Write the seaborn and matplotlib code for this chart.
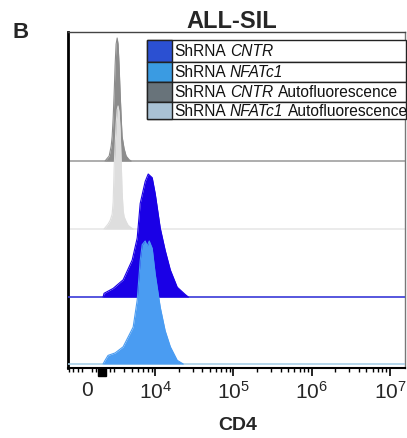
import matplotlib
matplotlib.use("Agg")
import matplotlib.pyplot as plt
import matplotlib.transforms as mtransforms
from matplotlib.patches import Rectangle
from matplotlib.ticker import FixedLocator, NullFormatter
import seaborn as sns
import pandas as pd

# ---- data (CD4 intensity, % of mode) ----
cntr_auto_x = [1980, 2200, 2430, 2650, 2760, 2870, 2980, 3070, 3160, 3260, 3350, 3450, 3560, 3670, 3770, 4000, 4250, 4640, 4920]
cntr_auto_y = [0, 2, 4, 12, 20, 35, 55, 78, 95, 100, 95, 78, 55, 35, 20, 10, 4, 1, 0]

nfat_auto_x = [1870, 2090, 2310, 2540, 2760, 2870, 2980, 3070, 3160, 3260, 3350, 3450, 3560, 3670, 3770, 3890, 4000, 4250, 4500, 4920, 5220]
nfat_auto_y = [0, 2, 4, 7, 12, 22, 50, 68, 85, 97, 100, 95, 80, 55, 30, 15, 10, 6, 3, 1, 0]

cntr_x = [1760, 1870, 2870, 3890, 5070, 5880, 6420, 7440, 8130, 9150, 10000, 11600, 13400, 15600, 19100, 24200, 26500]
cntr_y = [0, 3, 7, 14, 30, 48, 76, 94, 100, 97, 84, 56, 38, 22, 8, 2, 0]

nfat_x = [1760, 1980, 2310, 3070, 3890, 5220, 5880, 6420, 6810, 7440, 7900, 8380, 9150, 10000, 11600, 13400, 15600, 19100, 22800]
nfat_y = [0, 3, 7, 9, 14, 30, 52, 84, 97, 100, 96, 100, 94, 73, 46, 27, 14, 3, 0]

tick_values = [0, 1e4, 1e5, 1e6, 1e7]
tick_labels = ["0", r"$10^{4}$", r"$10^{5}$", r"$10^{6}$", r"$10^{7}$"]

# legend rows: (normal, italic, normal) pieces
legend_pieces = [("ShRNA", "CNTR", ""),
                 ("ShRNA", "NFATc1", ""),
                 ("ShRNA", "CNTR", "Autofluorescence"),
                 ("ShRNA", "NFATc1", "Autofluorescence")]
legend_colors = ["#2b50d2", "#3a9be2", "#68737a", "#a9c2d5"]

# ---- style ----
sns.set_style("white")
plt.rcParams["font.family"] = ["Liberation Sans", "DejaVu Sans"]
plt.rcParams["mathtext.fontset"] = "custom"
plt.rcParams["mathtext.rm"] = "Liberation Sans"
plt.rcParams["mathtext.it"] = "Liberation Sans:italic"
plt.rcParams["mathtext.bf"] = "Liberation Sans:bold"

W, H = 407, 438
fig = plt.figure(figsize=(W / 100, H / 100), dpi=100)
ax = fig.add_axes([68 / W, (H - 368) / H, 337 / W, 336 / H])
px = mtransforms.Affine2D().scale(1 / W, -1 / H).translate(0, 1) + fig.transFigure

# tracks: (x, y, fill colour, baseline colour, baseline offset, zorder)
scale = 123.0
tracks = [
    (cntr_auto_x, cntr_auto_y, "#8c8c8c", "#a0a0a0", 207, 1),
    (nfat_auto_x, nfat_auto_y, "#dedede", "#e8e8e8", 139, 2),
    (cntr_x, cntr_y, "#1a00e6", "#3a3ad8", 71, 3),
    (nfat_x, nfat_y, "#4a9cf2", "#a8cfe8", 4, 4),
]
for xs, ys, fc, lc, off, z in tracks:
    ax.axhline(off, color=lc, lw=1.2, zorder=z)
    yy = [off + v / 100 * scale for v in ys]
    ax.fill_between(xs, off, yy, color=fc, lw=0, zorder=z + 0.1)
    df = pd.DataFrame({"x": xs, "y": yy})
    sns.lineplot(data=df, x="x", y="y", ax=ax, color=fc, lw=0.8, estimator=None,
                 sort=False, zorder=z + 0.2)

ax.set_xscale("symlog", linthresh=3000, linscale=0.314)
ax.set_xlim(-2094, 1.56e7)
ax.set_ylim(0, 336)
ax.set_xlabel("")
ax.set_ylabel("")
ax.set_yticks([])

ax.xaxis.set_major_locator(FixedLocator(tick_values))
ax.set_xticklabels(tick_labels, fontsize=15)
minor = [-2000, -1500, -1000, -500, 500, 1000, 1500, 2000, 2500]
for e in range(3, 7):
    for k in range(2, 10):
        v = k * 10 ** e
        if v > 2500 and v < 1.56e7:
            minor.append(v)
ax.xaxis.set_minor_locator(FixedLocator(minor))
ax.xaxis.set_minor_formatter(NullFormatter())
ax.tick_params(axis="x", which="major", direction="out", length=6, width=1.2,
               color="black", pad=3, bottom=True)
ax.tick_params(axis="x", which="minor", direction="out", length=3, width=1,
               color="black", bottom=True)
ax.xaxis.get_major_ticks()[0].tick1line.set_visible(False)
ax.plot([1600], [-0.013], marker="s", ms=6, color="black",
        transform=ax.get_xaxis_transform(), clip_on=False)

for s in ["left", "bottom"]:
    ax.spines[s].set_color("black")
ax.spines["left"].set_linewidth(2)
ax.spines["bottom"].set_linewidth(1.5)
ax.spines["top"].set_color("#444444")
ax.spines["top"].set_linewidth(1)
ax.spines["right"].set_color("#777777")
ax.spines["right"].set_linewidth(1)

# legend table
fig.canvas.draw()
renderer = fig.canvas.get_renderer()
LFS = 11.2


def text_width(s, style):
    t = fig.text(0, 0, s, fontsize=LFS, style=style)
    w = t.get_window_extent(renderer).width
    t.remove()
    return w


space_w = text_width("S S", "normal") - text_width("SS", "normal")

rows = [40, 62, 82, 102, 119]
for i, (pieces, col) in enumerate(zip(legend_pieces, legend_colors)):
    y0, y1 = rows[i], rows[i + 1]
    fig.add_artist(Rectangle((147, y1), 259, y0 - y1, transform=px, facecolor="white",
                             edgecolor="#222222", lw=1))
    fig.add_artist(Rectangle((147, y1), 25, y0 - y1, transform=px, facecolor=col,
                             edgecolor="#222222", lw=1))
    xcur = 174
    yc = (y0 + y1) / 2 + 0.5
    for s, style in zip(pieces, ["normal", "italic", "normal"]):
        if not s:
            continue
        fig.text(xcur, yc, s, transform=px, fontsize=LFS, style=style, va="center",
                 ha="left", color="#111111")
        xcur += text_width(s, style) + space_w

fig.text(232, 22, "ALL-SIL", transform=px, fontsize=17, fontweight="bold",
         ha="center", va="center")
fig.text(21, 33, "B", transform=px, fontsize=16, fontweight="bold",
         ha="center", va="center")
fig.text(238, 425, "CD4", transform=px, fontsize=14, fontweight="bold",
         ha="center", va="center")

fig.savefig("out.png", dpi=100)
